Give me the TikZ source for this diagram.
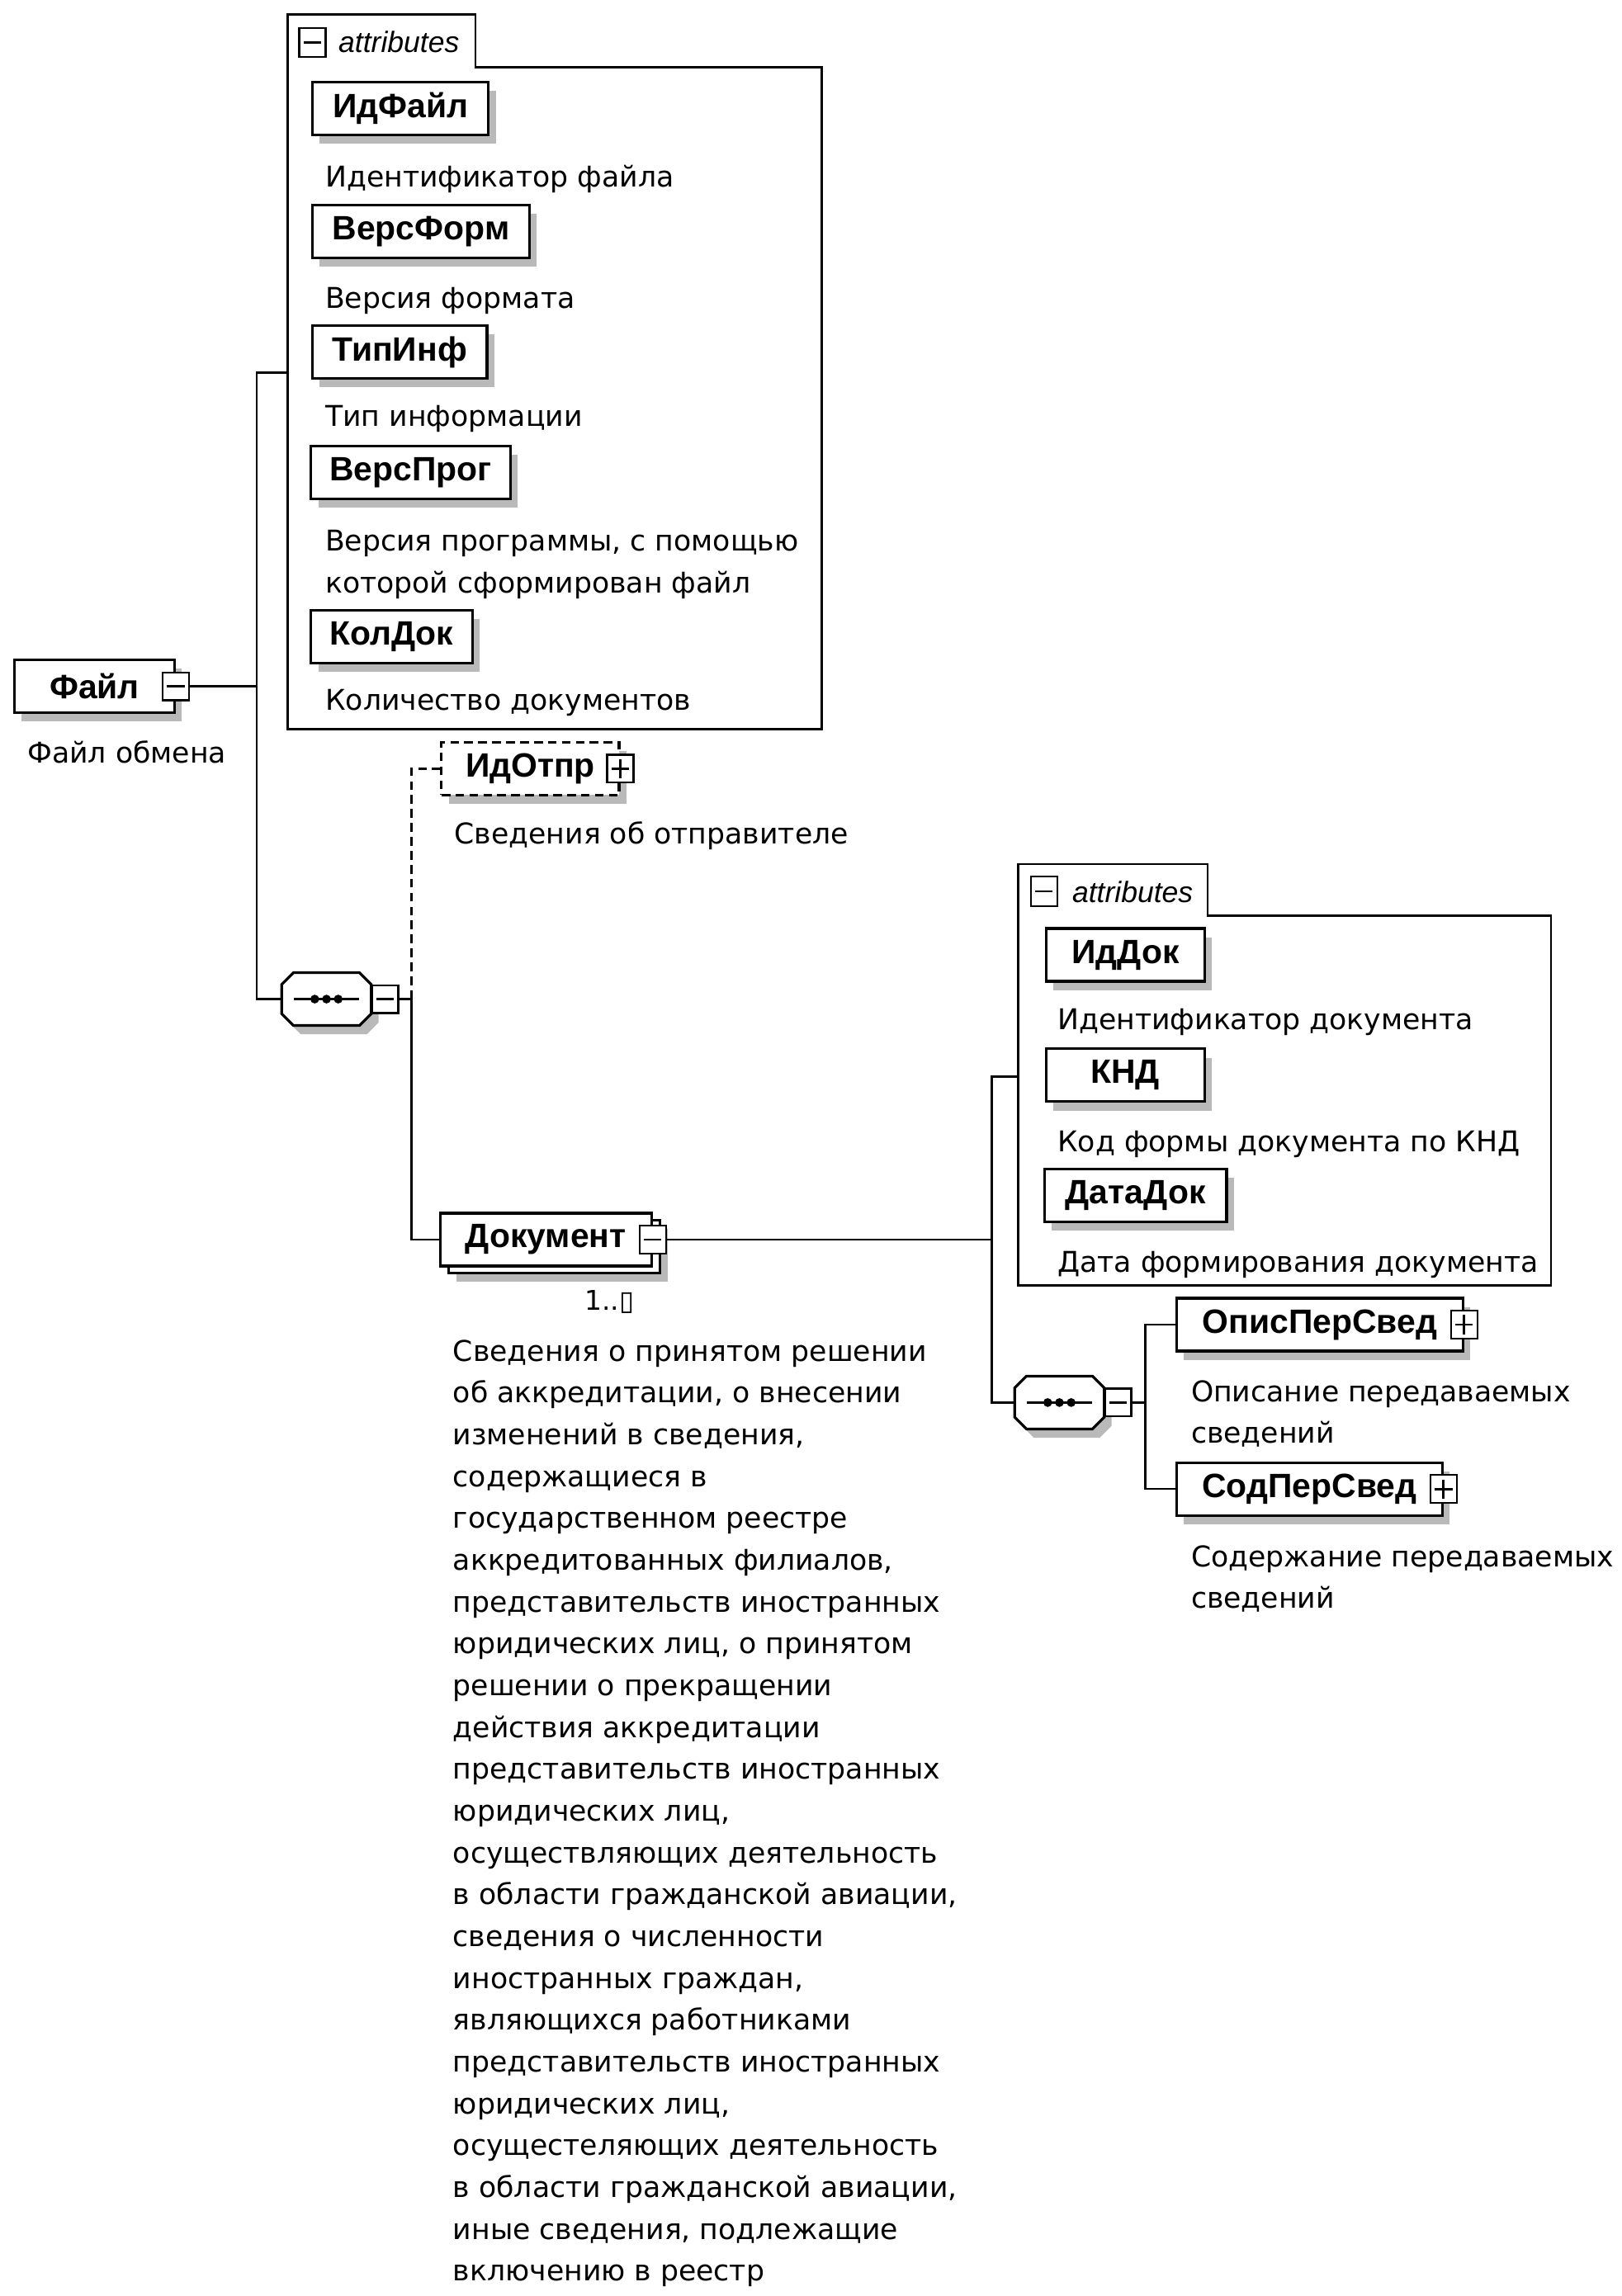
\documentclass[tikz,border=0pt]{standalone}
\usepackage{fontspec}
\setmainfont{DejaVu Sans}
\newfontfamily\namefont{Liberation Sans}
\usetikzlibrary{shadows}

\begin{document}
\begin{tikzpicture}[
  x=1pt, y=-1pt, % pixel-like units, y grows downwards
  line width=1.5pt,
  every node/.style={inner sep=0pt},
  withshadow/.style={drop shadow={shadow xshift=5pt, shadow yshift=-6pt, fill=gray!55, opacity=1}},
  box/.style={draw, line width=1.8pt, fill=white, anchor=north west, minimum height=36pt, font=\namefont\bfseries\fontsize{23}{26}\selectfont},
  elem/.style={box, withshadow}, % element with its shadow
  optelem/.style={elem, dash pattern=on 6pt off 3.5pt}, % optional element
  btn/.style={draw, line width=1.3pt, fill=white, minimum width=18pt, minimum height=19pt},
  minusbtn/.style={btn, path picture={\draw[line width=1.6pt] ([xshift=3pt]path picture bounding box.west) -- ([xshift=-3pt]path picture bounding box.east);}},
  plusbtn/.style={btn, path picture={
      \draw[line width=1.6pt] ([xshift=3pt]path picture bounding box.west) -- ([xshift=-3pt]path picture bounding box.east);
      \draw[line width=1.6pt] ([yshift=-3pt]path picture bounding box.north) -- ([yshift=3pt]path picture bounding box.south);}},
  octagon/.style={insert path={(-22.5,-18) -- (22.5,-18) -- (30.5,-10) -- (30.5,10) -- (22.5,18) -- (-22.5,18) -- (-30.5,10) -- (-30.5,-10) -- cycle}},
  seqgroup/.pic={ % sequence compositor
    \fill[gray!55, shift={(5,6)}] [octagon];
    \draw[line width=1.8pt, fill=white] [octagon];
    \node[minimum width=61pt, minimum height=36pt] (-box) {};
    \draw[line width=1.5pt] (-22,0) -- (22,0);
    \foreach \dx in {-8,0,8} \fill[black] (\dx,0) circle (3pt);
  },
  descr/.style={anchor=base west, font=\fontsize{19.5}{28.5}\selectfont},
  longdescr/.style={anchor=north west, align=left, font=\fontsize{19.5}{28.5}\selectfont},
  attrs/.style={draw, line width=1.5pt, fill=white},
  tabtext/.style={anchor=base west, font=\namefont\itshape\fontsize{20}{24}\selectfont}
]
\useasboundingbox (0,0) rectangle (1105,1565);

% root element
\node[elem, minimum width=109pt] (file) at (9,449) {Файл\hspace{12pt}};
\node[minusbtn] (fileBtn) at (file.east) {};
\node[descr] (fileDesc) at (18,520) {Файл обмена};

% attributes of Файл
\draw[attrs] (196,497) -- (196,10) -- (324,10) -- (324,46) -- (560,46) -- (560,497) -- cycle;
\node[minusbtn, minimum height=20pt] (attrAicon) at (213,29) {};
\node[tabtext] (attrAlabel) at (230,36) {attributes};
\coordinate (attrAin) at (196,254);

\node[elem, minimum width=120pt] (idFile) at (212,55) {ИдФайл};
\node[descr] (idFileDesc) at (221,127.5) {Идентификатор файла};
\node[elem, minimum width=148pt] (versForm) at (212,139) {ВерсФорм};
\node[descr] (versFormDesc) at (221,210) {Версия формата};
\node[elem, minimum width=119pt] (typeInf) at (212,221) {ТипИнф};
\node[descr] (typeInfDesc) at (221,290.5) {Тип информации};
\node[elem, minimum width=136pt] (versProg) at (211,303) {ВерсПрог};
\node[longdescr] (versProgDesc) at (221,355) {\strut Версия программы, с помощью\\которой сформирован файл};
\node[elem, minimum width=110pt] (colDoc) at (211,415) {КолДок};
\node[descr] (colDocDesc) at (221,484) {Количество документов};

% sequence under Файл
\pic (seq1) at (222.5,681) {seqgroup};
\node[minusbtn, anchor=west] (seq1Btn) at ([xshift=-1pt]seq1-box.east) {};

\coordinate (spineA) at (175,254);
\draw (attrAin) -- (spineA) |- (seq1-box.west);
\draw (fileBtn.east) -- (fileBtn.east -| spineA);

% ИдОтпр
\node[optelem, minimum width=121pt] (sender) at (300,505) {ИдОтпр};
\node[plusbtn] (senderBtn) at (sender.east) {};
\node[descr] (senderDesc) at (309,575) {Сведения об отправителе};

% Документ (1..n)
\node[elem, minimum width=144pt] (docBack) at (305,831) {};
\node[box, minimum width=144pt] (doc) at (299,826) {Документ};
\node[minusbtn] (docBtn) at (doc.east) {};
\node[anchor=base east, font=\fontsize{18.5}{22}\selectfont] (docCard) at (433,893) {1..▯};
\node[longdescr] (docDesc) at (308,907) {\strut Сведения о принятом решении\\
об аккредитации, о внесении\\
изменений в сведения,\\
содержащиеся в\\
государственном реестре\\
аккредитованных филиалов,\\
представительств иностранных\\
юридических лиц, о принятом\\
решении о прекращении\\
действия аккредитации\\
представительств иностранных\\
юридических лиц,\\
осуществляющих деятельность\\
в области гражданской авиации,\\
сведения о численности\\
иностранных граждан,\\
являющихся работниками\\
представительств иностранных\\
юридических лиц,\\
осущестеляющих деятельность\\
в области гражданской авиации,\\
иные сведения, подлежащие\\
включению в реестр};

\draw (seq1Btn.east) -- ++(8.5,0) coordinate (spineB) |- (doc.west);
\draw[dash pattern=on 6pt off 3.5pt] (spineB) |- (sender.west);

% attributes of Документ
\draw[attrs] (694,876) -- (694,589) -- (823,589) -- (823,624) -- (1057,624) -- (1057,876) -- cycle;
\node[minusbtn, minimum height=20pt] (attrBicon) at (711.5,607.5) {};
\node[tabtext] (attrBlabel) at (730,615) {attributes};
\coordinate (attrBin) at (694,734);

\node[elem, minimum width=108pt] (idDoc) at (712,632) {ИдДок};
\node[descr] (idDocDesc) at (720,702) {Идентификатор документа};
\node[elem, minimum width=108pt] (knd) at (712,714) {КНД\hspace{33pt}};
\node[descr] (kndDesc) at (720,785) {Код формы документа по КНД};
\node[elem, minimum width=124pt] (dateDoc) at (711,796) {ДатаДок};
\node[descr] (dateDocDesc) at (720,867) {Дата формирования документа};

% sequence under Документ
\pic (seq2) at (722,956) {seqgroup};
\node[minusbtn, anchor=west] (seq2Btn) at ([xshift=-1pt]seq2-box.east) {};

\coordinate (spineC) at (676,734);
\draw (docBtn.east) -- (docBtn.east -| spineC);
\draw (attrBin) -- (spineC) |- (seq2-box.west);

\node[elem, minimum width=195pt] (opis) at (801,884) {ОписПерСвед};
\node[plusbtn] (opisBtn) at (opis.east) {};
\node[longdescr] (opisDesc) at (811,934.5) {\strut Описание передаваемых\\сведений};
\node[elem, minimum width=181pt] (sod) at (801,996) {СодПерСвед};
\node[plusbtn] (sodBtn) at (sod.east) {};
\node[longdescr] (sodDesc) at (811,1047) {\strut Содержание передаваемых\\сведений};

\draw (seq2Btn.east) -- ++(9,0) coordinate (spineD);
\draw (opis.west) -| (spineD) |- (sod.west);

\end{tikzpicture}
\end{document}
